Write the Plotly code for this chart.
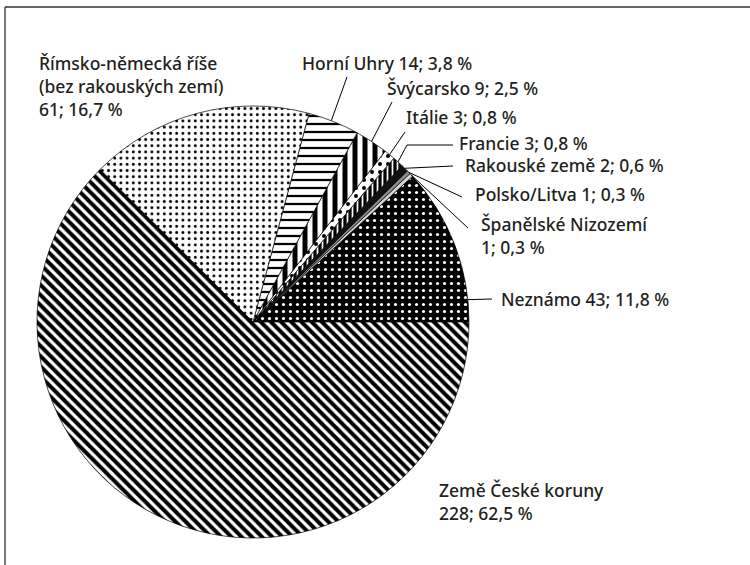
import math
import plotly.graph_objects as go

# ---------------- data ----------------
categories = ["Neznámo", "Španělské Nizozemí", "Polsko/Litva", "Rakouské země",
              "Francie", "Itálie", "Švýcarsko", "Horní Uhry",
              "Římsko-německá říše<br>(bez rakouských zemí)", "Země České koruny"]
counts = [43, 1, 1, 2, 3, 3, 9, 14, 61, 228]
percent_text = ["11,8", "0,3", "0,3", "0,6", "0,8", "0,8", "2,5", "3,8", "16,7", "62,5"]
name_sep = [" ", "<br>", " ", " ", " ", " ", " ", " ", "<br>", "<br>"]

# ---------------- styles ----------------
pat_shape = ["."     , ""       , ""       , ""       , "|"    , "."    , "|"    , "-"    , "."    , "\\"]
pat_bg    = ["black" , "#d8d8d8", "#8a8a8a", "#111111", "black", "white", "white", "white", "white", "white"]
pat_fg    = ["white" , "#d8d8d8", "#8a8a8a", "#111111", "white", "black", "black", "black", "black", "black"]
pat_size  = [7       , 8        , 8        , 8        , 5      , 8      , 10     , 8      , 6.2    , 7.2]
pat_sol   = [0.16    , 0.5      , 0.5      , 0.5      , 0.35   , 0.2    , 0.5    , 0.28   , 0.17   , 0.56]

W, H = 750, 565
CX, CY, R = 253, 322, 216          # pie centre / radius in px

# label layout: (left x px, centre y px)
label_pos = [(499, 299), (479, 236), (473, 194), (463, 165), (457, 143),
             (404, 117), (385, 88), (300, 63), (37, 86), (437, 501)]
# leader lines: fraction inside the slice for the edge point, and px points toward label
leader_frac = [0.14, 0.5, 0.5, 0.5, 0.5, 0.5, 0.5, 0.55, None, None]
leader_pts = [[(492, 299)], [(468, 228)], [(462, 197)], [(453, 166)],
              [(407, 145), (453, 145)], [(405, 132)], [(392, 102)], [(347, 77)], None, None]

FONT = "Noto Sans"
TXT = "#231f20"

def px(x):
    return x / W

def py(y):
    return 1 - y / H

total = sum(counts)

fig = go.Figure(go.Pie(
    labels=[c.replace("<br>", " ") for c in categories],
    values=counts,
    sort=False,
    direction="counterclockwise",
    # plotly places the first slice clockwise from `rotation`; shift so it starts at 3 o'clock going up
    rotation=90 - 360 * counts[0] / total,
    textinfo="none",
    hoverinfo="label+value+percent",
    marker=dict(
        colors=pat_bg,
        line=dict(color="black", width=0.7),
        pattern=dict(shape=pat_shape, bgcolor=pat_bg, fgcolor=pat_fg,
                     size=pat_size, solidity=pat_sol, fillmode="replace"),
    ),
    domain=dict(x=[px(CX - R), px(CX + R)], y=[py(CY + R), py(CY - R)]),
    showlegend=False,
))

annotations = []
shapes = []
cum = 0
for i, c in enumerate(counts):
    a0 = cum / total * 360
    cum += c
    a1 = cum / total * 360
    text = categories[i] + name_sep[i] + f"{c}; {percent_text[i]} %"
    lx, ly = label_pos[i]
    annotations.append(dict(x=px(lx), y=py(ly), xref="paper", yref="paper",
                            text=text, showarrow=False, xanchor="left", yanchor="middle",
                            align="left", font=dict(family=FONT, size=17.5, color=TXT, weight=500)))
    if leader_frac[i] is not None:
        ang = math.radians(a0 + (a1 - a0) * leader_frac[i])
        pts = [(CX + R * math.cos(ang), CY - R * math.sin(ang))] + leader_pts[i]
        for (x0, y0), (x1, y1) in zip(pts[:-1], pts[1:]):
            shapes.append(dict(type="line", xref="paper", yref="paper",
                               x0=px(x0), y0=py(y0), x1=px(x1), y1=py(y1),
                               line=dict(color="black", width=1)))

# page frame (top and left edges)
shapes.append(dict(type="line", xref="paper", yref="paper", x0=px(5), y0=py(7), x1=1, y1=py(7),
                   line=dict(color="#333", width=1.3)))
shapes.append(dict(type="line", xref="paper", yref="paper", x0=px(5), y0=py(7), x1=px(5), y1=0,
                   line=dict(color="#333", width=1.3)))

fig.update_layout(width=W, height=H, margin=dict(l=0, r=0, t=0, b=0),
                  paper_bgcolor="white", plot_bgcolor="white",
                  annotations=annotations, shapes=shapes)

fig.write_html("out.html", config={"displayModeBar": False},
               post_script="document.body.style.margin='0';document.body.style.overflow='hidden';")
